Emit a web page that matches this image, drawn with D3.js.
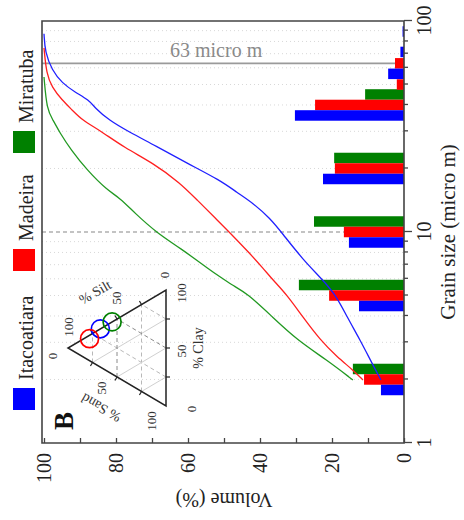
<!DOCTYPE html>
<html><head><meta charset="utf-8">
<script src="https://cdn.jsdelivr.net/npm/d3@7"></script>
<style>
body{margin:0;background:#fff}
svg{display:block}
text{font-family:"Liberation Serif","Times New Roman",serif}
</style>
</head><body>
<svg id="chart" width="464" height="520"></svg>
<script>
// ---------- data ----------
const seriesNames = ["Itacoatiara", "Madeira", "Miratuba"];
const seriesColors = ["#0000ff", "#ff0000", "#008000"];
const lineColors = ["#2020ff", "#ff2020", "#229922"];

// histogram classes (micro m) and volume (%) per series
const binSizes = [2, 5, 10, 20, 40, 50, 63, 80, 100];
const barsItacoatiara = [6.4, 12.5, 15.3, 22.5, 30.3, 0, 4.4, 1.0, 0.4];
const barsMadeira     = [11.1, 20.8, 16.7, 19.2, 24.7, 2.0, 2.5, 0, 0];
const barsMiratuba    = [14.2, 29.2, 25.0, 19.4, 10.8, 0, 0, 0, 0];

// cumulative curves: grain size (micro m), volume (%)
const curveItacoatiaraSize = [1.99, 2.39, 3.08, 3.95, 4.92, 5.92, 7.37, 9.9, 11.6, 13.7, 15.4, 17.6, 21.2, 25.6, 29.8, 33.9, 38.7, 42.2, 46, 50.8, 58.6, 71, 87];
const curveItacoatiaraVol  = [6.4, 8.9, 12.2, 15.8, 18.6, 22.5, 28, 33.9, 37.2, 41.9, 46.4, 51.1, 60.3, 69, 76.4, 82, 85.8, 87.5, 91.4, 95, 97.8, 99.7, 100];
const curveMadeiraSize = [1.99, 2.22, 2.56, 3.08, 3.95, 5.03, 5.92, 6.75, 7.9, 9.9, 11.4, 14.2, 17.1, 21.2, 25.0, 30.5, 33.9, 37.9, 42.2, 48.6, 56, 74.5];
const curveMadeiraVol  = [11.4, 14.2, 18.6, 23.3, 28.1, 32.5, 36.4, 39.2, 42.8, 48.3, 51.9, 57.5, 62.2, 69.7, 77.5, 84.7, 89.4, 92.2, 95, 97.8, 99.3, 100];
const curveMiratubaSize = [1.99, 2.47, 3.08, 3.95, 5.13, 5.61, 6.13, 6.61, 8.4, 9.89, 12.3, 14.5, 15.8, 19.7, 24.5, 29.5, 34, 37.9, 54.3];
const curveMiratubaVol  = [14.2, 21.4, 29.7, 36.5, 43.6, 47.8, 51.1, 53.9, 62.2, 68.6, 74.8, 78.9, 82.5, 88.1, 92.5, 95.6, 97.5, 99.2, 100];

// ternary (sand, silt, clay %)
const ternSand = [0, 3, 0];
const ternSilt = [67, 78, 55];
const ternClay = [33, 19, 45];

// axis ticks
const volumeTicks = [0, 10, 20, 30, 40, 50, 60, 70, 80, 90, 100];
const volumeLabels = [0, 20, 40, 60, 80, 100];
const sizeTicks = [1, 2, 3, 4, 5, 6, 7, 8, 9, 10, 20, 30, 40, 50, 60, 70, 80, 90, 100];
const sizeLabels = [1, 10, 100];
const ternTicks = [25, 50, 75];

// ---------- drawing ----------
const svg = d3.select("#chart");
// the whole figure is the original chart rotated 90 degrees counter-clockwise
const g = svg.append("g").attr("transform", "translate(0,520) rotate(-90)");

const x = d3.scaleLog().domain([1, 100]).range([77, 499]);
const y = d3.scaleLinear().domain([0, 100]).range([404, 44]);
const pTop = 42, pBottom = 404, pLeft = 77, pRight = 499;

// faint dotted grid
g.append("g").selectAll("line")
  .data(sizeTicks.filter(d => d !== 1 && d !== 10 && d !== 100))
  .join("line")
  .attr("x1", d => x(d)).attr("x2", d => x(d))
  .attr("y1", pTop).attr("y2", pBottom)
  .attr("stroke", "#d8d8d8").attr("stroke-width", 1).attr("stroke-dasharray", "1,3");

// 63 micro m line and 10 micro m dashed line
g.append("line").attr("x1", x(63)).attr("x2", x(63)).attr("y1", pTop).attr("y2", pBottom)
  .attr("stroke", "#9a9a9a").attr("stroke-width", 1.6);
g.append("line").attr("x1", x(10)).attr("x2", x(10)).attr("y1", pTop).attr("y2", pBottom)
  .attr("stroke", "#b0b0b0").attr("stroke-width", 1.6).attr("stroke-dasharray", "4,3");

// bars
const barW = 10.5;
const barSets = [barsItacoatiara, barsMadeira, barsMiratuba];
const offsets = [-barW, 0, barW];
const barData = [];
binSizes.forEach((b, i) => {
  [2, 1, 0].forEach(s => barData.push({bin: b, s: s, v: barSets[s][i]}));
});
g.append("g").selectAll("rect")
  .data(barData.filter(d => d.v > 0))
  .join("rect")
  .attr("x", d => x(d.bin) + offsets[d.s] - barW / 2)
  .attr("width", barW)
  .attr("y", d => y(d.v))
  .attr("height", d => y(0) - y(d.v))
  .attr("fill", d => seriesColors[d.s]);

// cumulative curves
const curves = [
  d3.zip(curveItacoatiaraSize, curveItacoatiaraVol),
  d3.zip(curveMadeiraSize, curveMadeiraVol),
  d3.zip(curveMiratubaSize, curveMiratubaVol)
];
const line = d3.line().x(d => x(d[0])).y(d => y(d[1])).curve(d3.curveBasis);
curves.forEach((c, i) => {
  g.append("path").datum(c).attr("d", line)
    .attr("fill", "none").attr("stroke", lineColors[i]).attr("stroke-width", 1.3);
});

// frame
g.append("path")
  .attr("d", `M${pLeft},${pTop}H${pRight}V${pBottom}H${pLeft}Z`)
  .attr("fill", "none").attr("stroke", "#444").attr("stroke-width", 1.6);

// volume axis (left in original)
const yAxis = g.append("g").attr("transform", `translate(${pLeft},0)`)
  .call(d3.axisLeft(y).tickValues(volumeTicks).tickSize(-5).tickSizeOuter(0).tickPadding(10)
    .tickFormat(d => volumeLabels.includes(d) ? d : ""));
yAxis.select(".domain").remove();
yAxis.selectAll("line").attr("stroke", "#444").attr("stroke-width", 1.3);
yAxis.selectAll("text").attr("font-size", 20).attr("fill", "#222")
  .style("font-family", "'Liberation Serif', serif");

// grain size axis (bottom in original)
const xAxis = g.append("g").attr("transform", `translate(0,${pBottom})`)
  .call(d3.axisBottom(x).tickValues(sizeTicks).tickSize(4).tickSizeOuter(0).tickPadding(9)
    .tickFormat(d => sizeLabels.includes(d) ? d : ""));
xAxis.select(".domain").remove();
xAxis.selectAll("line").attr("stroke", "#444").attr("stroke-width", 1.3)
  .attr("y2", d => sizeLabels.includes(d) ? 8 : 4);
xAxis.selectAll("text").attr("font-size", 20).attr("fill", "#222")
  .style("font-family", "'Liberation Serif', serif");

// axis titles
g.append("text").attr("x", (pLeft + pRight) / 2).attr("y", 455)
  .attr("text-anchor", "middle").attr("font-size", 21).attr("fill", "#222")
  .text("Grain size (micro m)");
g.append("text").attr("transform", "translate(27,224) rotate(-90)")
  .attr("text-anchor", "middle").attr("font-size", 20).attr("fill", "#222")
  .text("Volume (%)");

// legend (top in original)
const legendX = [110, 249, 367];
seriesNames.forEach((n, i) => {
  g.append("rect").attr("x", legendX[i]).attr("y", 13).attr("width", 22).attr("height", 22)
    .attr("fill", seriesColors[i]);
  g.append("text").attr("x", legendX[i] + 30).attr("y", 33)
    .attr("font-size", 20).attr("fill", "#222").text(n);
});

// panel letter
g.append("text").attr("x", 90).attr("y", 73).attr("font-size", 27).attr("font-weight", "bold")
  .attr("fill", "#111").text("B");

// ---------- ternary inset ----------
const A = [114, 166], B = [230, 166], C = [172, 68]; // Sand100, Clay100, Silt100
const tp = (sa, si, cl) => {
  const t = sa + si + cl;
  return [(A[0] * sa + C[0] * si + B[0] * cl) / t, (A[1] * sa + C[1] * si + B[1] * cl) / t];
};
const tern = g.append("g");
ternTicks.forEach(v => {
  const dark = v === 50 ? "#8a8a8a" : "#b8b8b8";
  let p1 = tp(100 - v, v, 0), p2 = tp(0, v, 100 - v);
  tern.append("line").attr("x1", p1[0]).attr("y1", p1[1]).attr("x2", p2[0]).attr("y2", p2[1])
    .attr("stroke", dark).attr("stroke-width", 1).attr("stroke-dasharray", "4,3");
  p1 = tp(100 - v, 0, v); p2 = tp(0, 100 - v, v);
  tern.append("line").attr("x1", p1[0]).attr("y1", p1[1]).attr("x2", p2[0]).attr("y2", p2[1])
    .attr("stroke", dark).attr("stroke-width", 1).attr("stroke-dasharray", "4,3");
  p1 = tp(v, 100 - v, 0); p2 = tp(v, 0, 100 - v);
  tern.append("line").attr("x1", p1[0]).attr("y1", p1[1]).attr("x2", p2[0]).attr("y2", p2[1])
    .attr("stroke", "#d0d0d0").attr("stroke-width", 1);
});
tern.append("path").attr("d", `M${A}L${B}L${C}Z`)
  .attr("fill", "none").attr("stroke", "#222").attr("stroke-width", 1.5);
const edges = [[A, C], [C, B], [B, A]];
edges.forEach(([P, Q]) => {
  const dx = Q[0] - P[0], dy = Q[1] - P[1], L = Math.hypot(dx, dy);
  const nx = dy / L, ny = -dx / L;
  ternTicks.forEach(v => {
    const px = P[0] + dx * v / 100, py = P[1] + dy * v / 100;
    tern.append("line").attr("x1", px).attr("y1", py).attr("x2", px + nx * 4).attr("y2", py + ny * 4)
      .attr("stroke", "#222").attr("stroke-width", 1.2);
  });
});
const ternLabels = [
  ["0", 164, 52], ["100", 193, 68], ["50", 222, 116], ["0", 245, 164],
  ["100", 227, 181], ["50", 169, 181], ["0", 111, 191],
  ["100", 99, 151], ["50", 132, 101]
];
tern.selectAll("text.tl").data(ternLabels).join("text").attr("class", "tl")
  .attr("x", d => d[1]).attr("y", d => d[2]).attr("dy", "0.35em")
  .attr("text-anchor", "middle").attr("font-size", 13).attr("fill", "#333").text(d => d[0]);
tern.append("text").attr("transform", "translate(228,95) rotate(60)").attr("text-anchor", "middle")
  .attr("dy", "0.35em").attr("font-size", 14).attr("fill", "#333").text("% Silt");
tern.append("text").attr("transform", "translate(112,101) rotate(-60)").attr("text-anchor", "middle")
  .attr("dy", "0.35em").attr("font-size", 14).attr("fill", "#333").text("% Sand");
tern.append("text").attr("x", 172).attr("y", 198).attr("text-anchor", "middle")
  .attr("dy", "0.35em").attr("font-size", 14).attr("fill", "#333").text("% Clay");
seriesNames.forEach((n, i) => {
  const p = tp(ternSand[i], ternSilt[i], ternClay[i]);
  tern.append("circle").attr("cx", p[0]).attr("cy", p[1]).attr("r", 9)
    .attr("fill", "none").attr("stroke", seriesColors[i]).attr("stroke-width", 1.7);
});

// label of the 63 micro m line (horizontal in the final picture)
svg.append("text").attr("x", 170).attr("y", 57).attr("font-size", 20).attr("fill", "#8a8a8a")
  .text("63 micro m");
</script>
</body></html>
